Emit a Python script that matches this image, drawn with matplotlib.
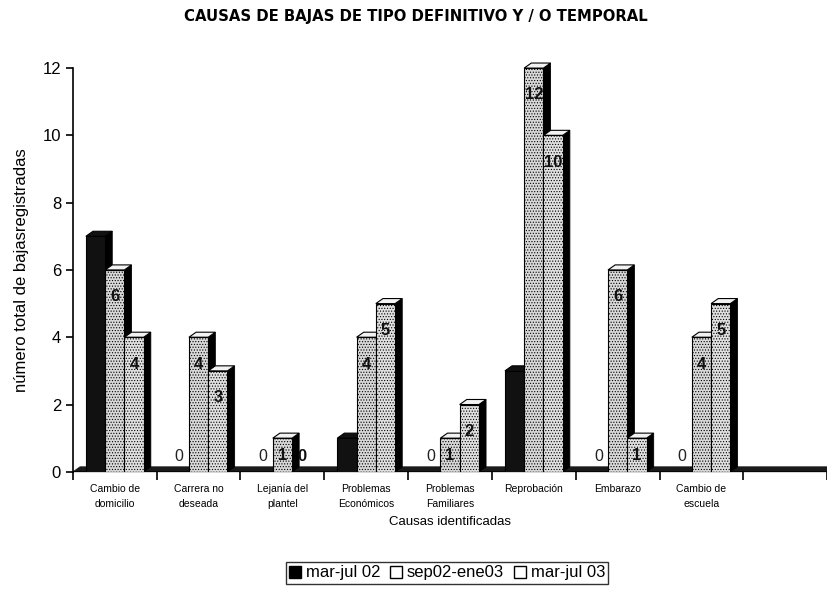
import numpy as np
import matplotlib
matplotlib.use("Agg")
import matplotlib.pyplot as plt
from matplotlib.patches import Polygon, Patch

plt.rcParams["font.family"] = ["Liberation Sans", "DejaVu Sans"]
plt.rcParams["hatch.color"] = "#a6a6a6"
plt.rcParams["hatch.linewidth"] = 0.5

# data
causas = ["Cambio de\ndomicilio", "Carrera no\ndeseada", "Lejanía del\nplantel",
          "Problemas\nEconómicos", "Problemas\nFamiliares", "Reprobación",
          "Embarazo", "Cambio de\nescuela", ""]
series = ["mar-jul 02", "sep02-ene03", "mar-jul 03"]
mar_jul_02 = [7, 0, 0, 1, 0, 3, 0, 0, 0]
sep02_ene03 = [6, 4, 1, 4, 1, 12, 6, 4, 0]
mar_jul_03 = [4, 3, 0, 5, 2, 10, 1, 5, 0]
values = [mar_jul_02, sep02_ene03, mar_jul_03]

front_colors = ["#111111", "#d8d8d8", "#e0e0e0"]
top_colors = ["#111111", "#f2f2f2", "#f2f2f2"]
hatches = [None, "......", "......"]

fig = plt.figure(figsize=(8.28, 5.92), dpi=100)
ax = fig.add_axes([0.088, 0.203, 0.911, 0.682])

n = len(causas)
x = np.arange(n)
w = 0.23
dx, dy = 0.085, 0.15

ax.set_xlim(-0.5, n - 0.5)
ax.set_ylim(0, 12)

# floor strip
ax.add_patch(Polygon([(-0.5, 0), (-0.5 + dx, dy), (n - 0.5, dy), (n - 0.5, 0)],
                     closed=True, facecolor="#1a1a1a", edgecolor="#1a1a1a",
                     lw=0.5, zorder=1, clip_on=False))

for s, vals in enumerate(values):
    xs = x + (s - 1) * w
    bars = ax.bar(xs, vals, width=w, color=front_colors[s], edgecolor="black",
                  linewidth=0.8, hatch=hatches[s], zorder=3 + 3 * s)
    for b, v in zip(bars, vals):
        if v == 0:
            continue
        x0 = b.get_x()
        x1 = x0 + b.get_width()
        side = Polygon([(x1, 0), (x1 + dx, dy), (x1 + dx, v + dy), (x1, v)],
                       closed=True, facecolor="black", edgecolor="black",
                       lw=0.6, zorder=2 + 3 * s, clip_on=False)
        top = Polygon([(x0, v), (x0 + dx, v + dy), (x1 + dx, v + dy), (x1, v)],
                      closed=True, facecolor=top_colors[s], edgecolor="black",
                      lw=0.8, zorder=2 + 3 * s, clip_on=False)
        ax.add_patch(side)
        ax.add_patch(top)

# data labels
for i in range(n - 1):
    for s, vals in enumerate(values):
        v = vals[i]
        xc = x[i] + (s - 1) * w
        if s == 0:
            if v == 0:
                ax.text(xc, 0.45, "0", ha="center", va="center",
                        fontsize=11.5, color="#222222", zorder=20)
            continue
        yc = max(v - 0.8, 0.5) if v > 0 else 0.45
        ax.text(xc, yc, str(v), ha="center", va="center", fontsize=12,
                fontweight="bold", color="#111111", zorder=20)

# axes styling
for sp in ["top", "right"]:
    ax.spines[sp].set_visible(False)
ax.spines["left"].set_linewidth(1.2)
ax.spines["bottom"].set_visible(False)
ax.set_yticks(range(0, 13, 2))
ax.tick_params(axis="y", labelsize=12, length=5, width=1.2, direction="out")
ax.set_xticks(np.arange(n + 1) - 0.5, minor=False)
ax.set_xticklabels([])
ax.tick_params(axis="x", which="major", length=6, width=1.2, direction="out")
ax.set_xticks(x, minor=True)
ax.set_xticklabels(causas, minor=True, fontsize=7.5, linespacing=1.55)
ax.tick_params(axis="x", which="minor", length=0, pad=9)
ax.axhline(0, color="black", lw=1.2, zorder=2)

ax.set_ylabel("número total de bajasregistradas", fontsize=12, labelpad=10)
fig.text(450 / 828, 1 - 522 / 592, "Causas identificadas", ha="center",
         va="center", fontsize=9.5)
fig.text(416 / 828, 1 - 16 / 592, "CAUSAS DE BAJAS DE TIPO DEFINITIVO Y / O TEMPORAL",
         ha="center", va="center", fontsize=10.7, fontweight="bold",
         family="DejaVu Sans")

handles = [Patch(facecolor="black", edgecolor="black"),
           Patch(facecolor="white", edgecolor="black"),
           Patch(facecolor="white", edgecolor="black")]
fig.legend(handles, series, loc="center", bbox_to_anchor=(447 / 828, 1 - 573 / 592),
           ncol=3, fontsize=12, frameon=True, fancybox=False, edgecolor="black",
           handlelength=0.7, handleheight=0.7, handletextpad=0.3, columnspacing=0.6,
           borderpad=0.2)

fig.savefig("out.png", dpi=100)
